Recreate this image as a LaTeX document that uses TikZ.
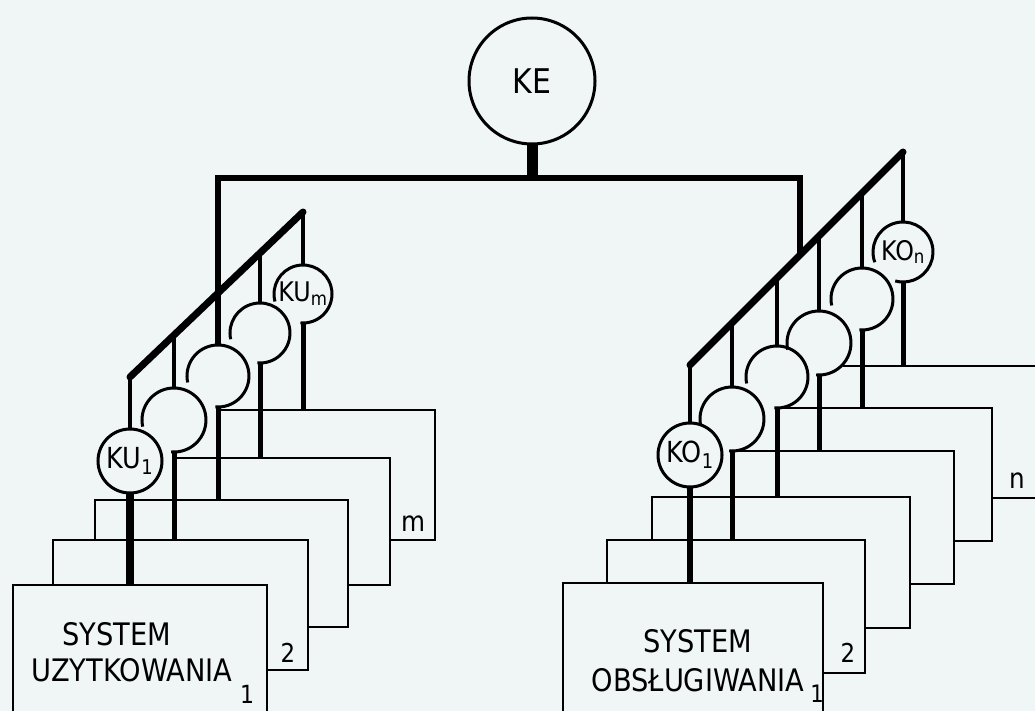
\documentclass[tikz,border=0pt]{standalone}
\usepackage{fontspec}
\newfontfamily\hand{DejaVu Sans}[FakeStretch=0.88]
\definecolor{paper}{RGB}{240,245,246}
\begin{document}
\begin{tikzpicture}[x=1pt,y=-1pt,
  box/.style={line width=2.7pt},
  ring/.style={line width=3pt},
  bus/.style={line width=7pt, line cap=round},
  bar/.style={line width=6pt, line join=miter},
  stub/.style={line width=4.4pt},
  feed/.style={line width=5pt},
  feedmain/.style={line width=7.5pt},
  hole/.style={circle, inner sep=0pt, outer sep=0pt, minimum size=#1},
  txt/.style={font=\hand\fontsize{#1}{#1}\selectfont, inner sep=0pt},
]
\path[fill=paper] (0,0) rectangle (1035,711);
\path[use as bounding box] (0,0) rectangle (1035,711);

% reference levels of box tops
\coordinate (L1t) at (0,585);
\coordinate (L2t) at (0,540);
\coordinate (L3t) at (0,500);
\coordinate (L4t) at (0,458);
\coordinate (L5t) at (0,410);
\coordinate (R1t) at (0,583);
\coordinate (R2t) at (0,540);
\coordinate (R3t) at (0,497);
\coordinate (R4t) at (0,451);
\coordinate (R5t) at (0,408);
\coordinate (R6t) at (0,366);

% ---------- boxes ----------
\begin{scope}
\clip (0,0) rectangle (1035,711);
% left stack
\draw[box] (13,585) rectangle (267,740);
\draw[box] (53,585) -- (53,540) -- (308,540) -- (308,670) -- (267,670);
\draw[box] (95,540) -- (95,500) -- (348,500) -- (348,627) -- (308,627);
\draw[box] (174,458) -- (390,458) -- (390,585) -- (348,585);
\draw[box] (218,410) -- (435,410) -- (435,540) -- (390,540);
% right stack
\draw[box] (563,583) rectangle (823,740);
\draw[box] (607,583) -- (607,540) -- (865,540) -- (865,673) -- (823,673);
\draw[box] (652,540) -- (652,497) -- (910,497) -- (910,628) -- (865,628);
\draw[box] (732,451) -- (954,451) -- (954,584) -- (910,584);
\draw[box] (777,408) -- (992,408) -- (992,541) -- (954,541);
\draw[box] (843,366) -- (1045,366) -- (1045,498) -- (992,498);
\end{scope}

% ---------- KE ----------
\node[hole=126pt, draw, ring, txt=34] (ke) at (532,81) {KE};
\coordinate (bl) at (218,178);
\coordinate (br) at (800,178);

% ---------- left circles ----------
\node[hole=64pt, draw, ring, txt=29] (u1) at (130,461) {KU\textsubscript{1}};
\node[hole=64pt] (u2) at (174,420) {};
\node[hole=62pt] (u3) at (218,376) {};
\node[hole=60pt] (u4) at (260,333) {};
\node[hole=58pt, txt=27] (um) at (303,294) {KU\textsubscript{m}};
\draw[ring] (u2.192) arc[start angle=192, end angle=-95, radius=32pt];
\draw[ring] (u3.192) arc[start angle=192, end angle=-95, radius=31pt];
\draw[ring] (u4.192) arc[start angle=192, end angle=-95, radius=30pt];
\draw[ring] (um.195) arc[start angle=195, end angle=-95, radius=29pt];

% ---------- right circles ----------
\node[hole=64pt, draw, ring, txt=29] (o1) at (690,455) {KO\textsubscript{1}};
\node[hole=64pt] (o2) at (732,419) {};
\node[hole=62pt] (o3) at (777,377) {};
\node[hole=64pt] (o4) at (819,343) {};
\node[hole=62pt] (o5) at (862,299) {};
\node[hole=60pt, txt=27] (on) at (903,252) {KO\textsubscript{n}};
\draw[ring] (o2.192) arc[start angle=192, end angle=-95, radius=32pt];
\draw[ring] (o3.192) arc[start angle=192, end angle=-95, radius=31pt];
\draw[ring] (o4.192) arc[start angle=192, end angle=-95, radius=32pt];
\draw[ring] (o5.192) arc[start angle=192, end angle=-95, radius=31pt];
\draw[ring] (on.200) arc[start angle=200, end angle=-105, radius=30pt];

% ---------- buses ----------
\coordinate (dl1) at (130,377);
\coordinate (dl2) at (174,335);
\coordinate (dl4) at (260,252);
\coordinate (dl5) at (303,212);
\coordinate (dr1) at (690,365);
\coordinate (dr2) at (732,323);
\coordinate (dr3) at (777,278);
\coordinate (drb) at (800,255);
\coordinate (dr4) at (819,236);
\coordinate (dr5) at (862,193);
\coordinate (dr6) at (903,152);

\draw[bar] (u3.north) -- (bl) -- (br) -- (drb);
\draw[line width=11pt] (ke.south) -- (ke.south |- bl);
\draw[bus] (dl1) -- (dl5);
\draw[bus] (dr1) -- (dr6);

% stubs from buses to circles
\draw[stub] (dl1) -- (u1.north);
\draw[stub] (dl2) -- (u2.north);
\draw[stub] (dl4) -- (u4.north);
\draw[stub] (dl5) -- (um.north);
\draw[stub] (dr1) -- (o1.north);
\draw[stub] (dr2) -- (o2.north);
\draw[stub] (dr3) -- (o3.north);
\draw[stub] (dr4) -- (o4.north);
\draw[stub] (dr5) -- (o5.north);
\draw[stub] (dr6) -- (on.north);

% feeds from circles to systems
\draw[feedmain] (u1.south) -- (u1.south |- L1t);
\draw[feed] (u2.south) -- (u2.south |- L2t);
\draw[feed] (u3.south) -- (u3.south |- L3t);
\draw[feed] (u4.south) -- (u4.south |- L4t);
\draw[feed] (um.south) -- (um.south |- L5t);
\draw[line width=6.5pt] (o1.south) -- (o1.south |- R1t);
\draw[feed] (o2.south) -- (o2.south |- R2t);
\draw[feed] (o3.south) -- (o3.south |- R3t);
\draw[feed] (o4.south) -- (o4.south |- R4t);
\draw[feed] (o5.south) -- (o5.south |- R5t);
\draw[feed] (on.south) -- (on.south |- R6t);

% ---------- labels ----------
\node[txt=31] (l1a) at (117,634) {SYSTEM};
\node[txt=31] (l1b) at (132,670) {UZYTKOWANIA};
\node[txt=25] (l1c) at (247,694) {1};
\node[txt=26] (l2) at (288,653) {2};
\node[txt=28] (lm) at (413,524) {m};
\node[txt=31] (r1a) at (698,641) {SYSTEM};
\node[txt=31] (r1b) at (698,680) {OBSŁUGIWANIA};
\node[txt=24] (r1c) at (817,694) {1};
\node[txt=26] (r2) at (848,653) {2};
\node[txt=28] (rn) at (1017,481) {n};
\end{tikzpicture}
\end{document}
